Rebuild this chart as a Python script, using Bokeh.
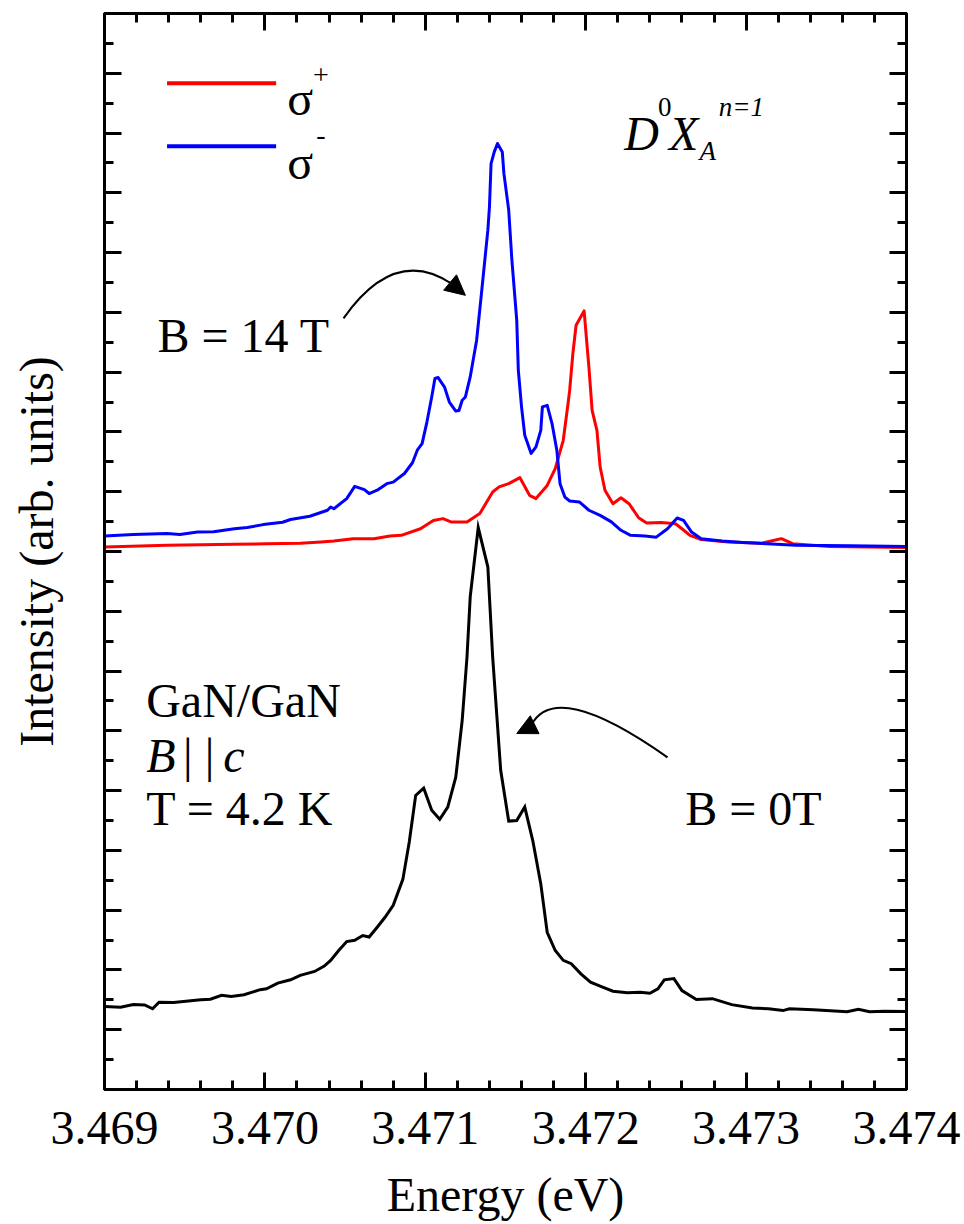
from bokeh.plotting import figure
from bokeh.models import (Range1d, LinearAxis, FixedTicker, PrintfTickFormatter, Arrow, NormalHead,
                          CustomLabelingPolicy)
from bokeh.core.properties import value
from bokeh.embed import file_html
from bokeh.resources import INLINE

# ---- data (energy in eV, intensity in arb. units) ----
energy_sigma_minus = [3.46900, 3.46918, 3.46939, 3.46947, 3.46958, 3.46968, 3.46981, 3.46989, 3.46999, 3.47011,
                      3.47016, 3.47028, 3.47039, 3.47041, 3.47043, 3.47051, 3.47056, 3.47062, 3.47065, 3.47070,
                      3.47076, 3.47080, 3.47087, 3.47092, 3.47095, 3.47098, 3.47101, 3.47104, 3.47106, 3.47108,
                      3.47112, 3.47115, 3.47119, 3.47121, 3.47123, 3.47125, 3.47128, 3.47132, 3.47135, 3.47139,
                      3.47140, 3.47141, 3.47143, 3.47145, 3.47148, 3.47149, 3.47152, 3.47154, 3.47157, 3.47158,
                      3.47160, 3.47162, 3.47166, 3.47169, 3.47172, 3.47173, 3.47176, 3.47179, 3.47182, 3.47184,
                      3.47187, 3.47190, 3.47196, 3.47202, 3.47209, 3.47216, 3.47222, 3.47228, 3.47237, 3.47244,
                      3.47251, 3.47257, 3.47261, 3.47266, 3.47272, 3.47285, 3.47298, 3.47331, 3.47365, 3.47400]
intensity_sigma_minus = [18.52, 18.57, 18.60, 18.57, 18.65, 18.66, 18.76, 18.80, 18.90, 18.98,
                         19.07, 19.18, 19.38, 19.49, 19.43, 19.77, 20.18, 20.07, 19.94, 20.05,
                         20.27, 20.32, 20.61, 20.97, 21.39, 21.61, 22.33, 23.17, 23.79, 23.82,
                         23.50, 23.00, 22.70, 22.72, 23.06, 23.17, 23.84, 25.07, 26.63, 28.75,
                         29.53, 30.98, 31.37, 31.65, 31.37, 30.65, 29.42, 27.74, 25.74, 24.06,
                         22.84, 21.89, 21.28, 21.50, 22.05, 22.84, 22.89, 22.28, 21.39, 20.27,
                         19.82, 19.69, 19.66, 19.38, 19.21, 18.99, 18.71, 18.54, 18.52, 18.48,
                         18.76, 19.12, 19.04, 18.65, 18.43, 18.35, 18.30, 18.21, 18.19, 18.17]

energy_sigma_plus = [3.46900, 3.46939, 3.46981, 3.47001, 3.47022, 3.47035, 3.47043, 3.47055, 3.47068, 3.47078,
                     3.47085, 3.47097, 3.47105, 3.47111, 3.47116, 3.47126, 3.47134, 3.47142, 3.47146, 3.47152,
                     3.47159, 3.47165, 3.47169, 3.47176, 3.47181, 3.47186, 3.47189, 3.47190, 3.47192, 3.47194,
                     3.47199, 3.47202, 3.47204, 3.47207, 3.47209, 3.47212, 3.47217, 3.47222, 3.47227, 3.47233,
                     3.47238, 3.47247, 3.47256, 3.47260, 3.47265, 3.47272, 3.47289, 3.47310, 3.47317, 3.47322,
                     3.47329, 3.47352, 3.47400]
intensity_sigma_plus = [18.15, 18.21, 18.24, 18.26, 18.28, 18.32, 18.35, 18.43, 18.43, 18.52,
                        18.54, 18.76, 19.04, 19.10, 18.99, 18.99, 19.27, 19.99, 20.16, 20.27,
                        20.47, 19.88, 19.77, 20.21, 20.77, 21.72, 22.95, 23.39, 24.62, 25.57,
                        26.05, 24.17, 22.72, 22.05, 20.83, 20.05, 19.60, 19.80, 19.60, 19.13,
                        18.95, 18.97, 18.93, 18.76, 18.54, 18.40, 18.32, 18.28, 18.37, 18.43,
                        18.26, 18.17, 18.13]

energy_zero_field = [3.46900, 3.46910, 3.46918, 3.46925, 3.46930, 3.46934, 3.46943, 3.46960, 3.46966, 3.46973,
                     3.46979, 3.46987, 3.46997, 3.47001, 3.47008, 3.47016, 3.47022, 3.47031, 3.47037, 3.47041,
                     3.47046, 3.47051, 3.47056, 3.47061, 3.47065, 3.47070, 3.47075, 3.47080, 3.47086, 3.47090,
                     3.47094, 3.47099, 3.47104, 3.47109, 3.47114, 3.47119, 3.47123, 3.47126, 3.47128, 3.47133,
                     3.47139, 3.47142, 3.47147, 3.47152, 3.47157, 3.47162, 3.47167, 3.47172, 3.47176, 3.47181,
                     3.47186, 3.47191, 3.47197, 3.47203, 3.47209, 3.47217, 3.47226, 3.47234, 3.47240, 3.47245,
                     3.47249, 3.47255, 3.47260, 3.47269, 3.47279, 3.47291, 3.47304, 3.47314, 3.47323, 3.47327,
                     3.47342, 3.47363, 3.47370, 3.47377, 3.47386, 3.47400]
intensity_zero_field = [2.78, 2.75, 2.84, 2.83, 2.70, 2.92, 2.91, 3.00, 3.02, 3.15,
                        3.11, 3.17, 3.34, 3.37, 3.56, 3.67, 3.82, 3.95, 4.13, 4.32,
                        4.65, 4.95, 4.99, 5.15, 5.10, 5.43, 5.77, 6.16, 7.03, 8.28,
                        9.84, 10.08, 9.34, 9.04, 9.45, 10.45, 12.35, 14.47, 16.48, 18.80,
                        17.48, 14.47, 10.68, 8.98, 9.00, 9.45, 8.33, 6.88, 5.26, 4.65,
                        4.32, 4.21, 3.87, 3.59, 3.46, 3.29, 3.24, 3.25, 3.22, 3.37,
                        3.67, 3.71, 3.31, 3.01, 3.04, 2.84, 2.73, 2.70, 2.64, 2.70,
                        2.67, 2.60, 2.68, 2.60, 2.62, 2.61]

x_major_ticks = [3.469, 3.470, 3.471, 3.472, 3.473, 3.474]
x_minor_ticks = [round(3.469 + 0.0002 * i, 4) for i in range(26)]
y_major_ticks = list(range(0, 37, 2))
y_minor_ticks = list(range(0, 37, 1))

FONT = value("Liberation Serif")

p = figure(width=964, height=1224, output_backend="svg", toolbar_location=None,
           x_range=Range1d(3.469, 3.474), y_range=Range1d(0, 36),
           min_border_left=104, min_border_right=58, min_border_top=13, min_border_bottom=135)
p.grid.visible = False
p.outline_line_color = "black"
p.outline_line_width = 3
p.background_fill_color = "white"
p.border_fill_color = "white"

NO_LABELS = "const n = indices.size; for (let i = 0; i < n; i++) { indices.unset(i) } return indices"


def style_axis(ax, ticks, minor, show_labels):
    ax.ticker = FixedTicker(ticks=ticks, minor_ticks=minor)
    ax.axis_line_width = 3
    ax.axis_line_color = "black"
    ax.major_tick_in = 17
    ax.major_tick_out = 0
    ax.minor_tick_in = 9
    ax.minor_tick_out = 0
    ax.major_tick_line_width = 3
    ax.minor_tick_line_width = 3
    ax.major_tick_line_color = "black"
    ax.minor_tick_line_color = "black"
    if not show_labels:
        ax.major_label_policy = CustomLabelingPolicy(code=NO_LABELS)
        ax.major_label_text_font_size = "0px"
        ax.major_label_standoff = 0


xb = p.xaxis[0]
style_axis(xb, x_major_ticks, x_minor_ticks, True)
xb.formatter = PrintfTickFormatter(format="%.3f")
xb.major_label_text_font = "Liberation Serif"
xb.major_label_text_font_size = "48px"
xb.major_label_text_color = "black"
xb.major_label_standoff = 22
xb.axis_label = "Energy (eV)"
xb.axis_label_text_font = "Liberation Serif"
xb.axis_label_text_font_size = "48px"
xb.axis_label_text_font_style = "normal"
xb.axis_label_text_color = "black"
xb.axis_label_standoff = 21

yl = p.yaxis[0]
style_axis(yl, y_major_ticks, y_minor_ticks, False)
yl.axis_label = "Intensity (arb. units)"
yl.axis_label_text_font = "Liberation Serif"
yl.axis_label_text_font_size = "48px"
yl.axis_label_text_font_style = "normal"
yl.axis_label_text_color = "black"
yl.axis_label_standoff = 42

xt = LinearAxis()
style_axis(xt, x_major_ticks, x_minor_ticks, False)
p.add_layout(xt, "above")
yr = LinearAxis()
style_axis(yr, y_major_ticks, y_minor_ticks, False)
p.add_layout(yr, "right")

# ---- curves ----
p.line(energy_zero_field, intensity_zero_field, line_color="black", line_width=3, line_join="miter")
p.line(energy_sigma_plus, intensity_sigma_plus, line_color="#ff0000", line_width=3, line_join="round")
p.line(energy_sigma_minus, intensity_sigma_minus, line_color="#0000ff", line_width=3, line_join="round")

# ---- legend (manual) ----
p.segment(x0=[3.46939], y0=[33.67], x1=[3.47007], y1=[33.67], line_color="#ff0000", line_width=4)
p.segment(x0=[3.46939], y0=[31.56], x1=[3.47007], y1=[31.56], line_color="#0000ff", line_width=4)
p.text(x=[3.47014, 3.47014], y=[33.17, 31.02], text=["σ", "σ"], text_font=FONT,
       text_font_size="48px", text_baseline="alphabetic", text_color="black")
p.text(x=[3.47030, 3.47032], y=[33.94, 31.93], text=["+", "-"], text_font=FONT,
       text_font_size="28px", text_baseline="alphabetic", text_color="black")

# ---- D0X_A^{n=1} label ----
p.text(x=[3.47224, 3.47252], y=[31.99, 31.99], text=["D", "X"], text_font=FONT,
       text_font_size="48px", text_font_style="italic", text_baseline="alphabetic")
p.text(x=[3.47245], y=[32.86], text=["0"], text_font=FONT,
       text_font_size="27px", text_baseline="alphabetic")
p.text(x=[3.47271, 3.47283], y=[31.39, 32.86], text=["A", "n=1"], text_font=FONT,
       text_font_size="27px", text_font_style="italic", text_baseline="alphabetic")

# ---- annotations ----
p.text(x=[3.46933, 3.46926, 3.46926, 3.47262], y=[25.23, 13.02, 9.40, 9.40],
       text=["B = 14 T", "GaN/GaN", "T = 4.2 K", "B = 0T"], text_font=FONT,
       text_font_size="48px", text_baseline="alphabetic", text_color="black")
p.text(x=[3.46926, 3.46974], y=[11.18, 11.18], text=["B", "c"], text_font=FONT,
       text_font_size="48px", text_font_style="italic", text_baseline="alphabetic")
p.text(x=[3.46949], y=[11.18], text=["| |"], text_font=FONT,
       text_font_size="48px", text_baseline="alphabetic")

# curved arrows
p.quadratic(x0=[3.47049], y0=[25.80], x1=[3.47117], y1=[26.94], cx=[3.47081], cy=[28.25],
            line_color="black", line_width=2)
p.add_layout(Arrow(end=NormalHead(size=20, fill_color="black", line_color="black", line_width=1),
                   x_start=3.47115, y_start=27.02, x_end=3.47125, y_end=26.57,
                   line_color="black", line_width=2))
p.quadratic(x0=[3.47251], y0=[11.11], x1=[3.47166], y1=[12.18], cx=[3.47181], cy=[13.76],
            line_color="black", line_width=2)
p.add_layout(Arrow(end=NormalHead(size=20, fill_color="black", line_color="black", line_width=1),
                   x_start=3.47168, y_start=12.20, x_end=3.47157, y_end=11.91,
                   line_color="black", line_width=2))

open("out.html", "w").write(file_html(p, INLINE))
